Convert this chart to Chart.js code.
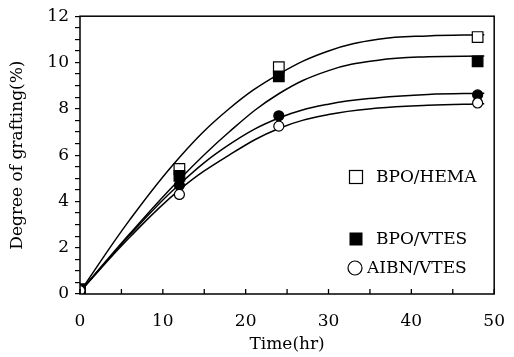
<!DOCTYPE html>
<html>
<head>
<meta charset="utf-8">
<script src="https://cdn.jsdelivr.net/npm/chart.js@4.4.0/dist/chart.umd.min.js"></script>
<style>
  html, body { margin: 0; padding: 0; background: #fff; }
  #wrap { width: 514px; height: 357px; }
</style>
</head>
<body>
<div id="wrap"><canvas id="c" width="514" height="357"></canvas></div>
<script>
// ---- Data ----
const timeHr = [0, 12, 24, 48];
const bpoHema = [0.2, 5.4, 9.8, 11.1];
const bpoVtes = [0.2, 5.1, 9.4, 10.05];
const filledCircleSeries = [0.2, 4.7, 7.7, 8.6];   // unlabelled series (filled circles)
const aibnVtes = [0.15, 4.3, 7.25, 8.25];

// fitted curves
const curveX = [0, 6, 12, 18, 24, 30, 36, 42, 48.8];
const curveHema = [0.1, 3.2, 5.9, 8.0, 9.5, 10.5, 11.0, 11.15, 11.2];
const curveBpoVtes = [0.1, 2.6, 4.95, 7.0, 8.65, 9.65, 10.1, 10.25, 10.28];
const curveFilledCircle = [0.1, 2.55, 4.74, 6.45, 7.6, 8.2, 8.48, 8.62, 8.67];
const curveAibnVtes = [0.1, 2.45, 4.5, 6.0, 7.15, 7.75, 8.03, 8.15, 8.22];

const legendLabels = ['BPO/HEMA', 'BPO/VTES', 'AIBN/VTES'];
const xTickLabels = [0, 10, 20, 30, 40, 50];
const yTickLabels = [0, 2, 4, 6, 8, 10, 12];

const FONT = 'DejaVu Serif';
const FS = 17;
const pts = (xs, ys) => xs.map((x, i) => ({ x: x, y: ys[i] }));

function curveDs(ys) {
  return {
    type: 'line', data: pts(curveX, ys), borderColor: '#000', borderWidth: 1.5,
    pointRadius: 0, tension: 0.4, fill: false, order: 2
  };
}
function markerDs(label, ys, style, filled, r) {
  return {
    type: 'scatter', label: label, data: pts(timeHr, ys), showLine: false,
    pointStyle: style, pointRadius: r, pointHoverRadius: r,
    pointBackgroundColor: filled ? '#000' : '#fff', pointBorderColor: '#000',
    pointBorderWidth: 1.2, order: 1
  };
}

const frameAndTicks = {
  id: 'frameAndTicks',
  afterDraw(chart) {
    const { ctx, chartArea: a } = chart;
    const xs = chart.scales.x;
    ctx.save();
    ctx.strokeStyle = '#000';
    ctx.lineWidth = 1.5;
    ctx.strokeRect(a.left, a.top, a.right - a.left, a.bottom - a.top);
    ctx.lineWidth = 1.3;
    xs.ticks.forEach(t => {
      const px = xs.getPixelForValue(t.value);
      ctx.beginPath();
      ctx.moveTo(px, a.bottom);
      ctx.lineTo(px, a.bottom - 5);
      ctx.stroke();
    });
    ctx.restore();
  }
};

const innerLegend = {
  id: 'innerLegend',
  afterDraw(chart) {
    const { ctx } = chart;
    const items = [
      { label: legendLabels[0], kind: 'osq', x: 356, y: 177, tx: 376 },
      { label: legendLabels[1], kind: 'fsq', x: 356, y: 239, tx: 376 },
      { label: legendLabels[2], kind: 'oci', x: 355, y: 268, tx: 367 }
    ];
    ctx.save();
    ctx.font = FS + 'px "' + FONT + '"';
    ctx.textBaseline = 'middle';
    ctx.fillStyle = '#000';
    ctx.strokeStyle = '#000';
    ctx.lineWidth = 1.2;
    items.forEach(it => {
      if (it.kind === 'osq') {
        ctx.strokeRect(it.x - 6.5, it.y - 6.5, 13, 13);
      } else if (it.kind === 'fsq') {
        ctx.fillRect(it.x - 6.5, it.y - 6.5, 13, 13);
      } else {
        ctx.beginPath();
        ctx.arc(it.x, it.y, 7, 0, Math.PI * 2);
        ctx.stroke();
      }
      ctx.fillText(it.label, it.tx, it.y + 1);
    });
    ctx.restore();
  }
};

new Chart(document.getElementById('c'), {
  data: {
    datasets: [
      curveDs(curveHema),
      curveDs(curveBpoVtes),
      curveDs(curveFilledCircle),
      curveDs(curveAibnVtes),
      markerDs(legendLabels[2], aibnVtes, 'circle', false, 5),
      markerDs('', filledCircleSeries, 'circle', true, 5),
      markerDs(legendLabels[1], bpoVtes, 'rect', true, 7.5),
      markerDs(legendLabels[0], bpoHema, 'rect', false, 7.5)
    ]
  },
  options: {
    responsive: false,
    animation: false,
    layout: { padding: { top: 13, right: 17, left: 0, bottom: 0 } },
    plugins: { legend: { display: false }, tooltip: { enabled: false } },
    scales: {
      x: {
        type: 'linear', min: 0, max: 50,
        grid: { display: false },
        border: { display: false },
        ticks: {
          stepSize: 5, padding: 9, color: '#000', autoSkip: false,
          font: { family: FONT, size: FS },
          maxRotation: 0,
          callback: v => xTickLabels.includes(v) ? String(v) : ''
        },
        title: {
          display: true, text: 'Time(hr)', color: '#000',
          font: { family: FONT, size: FS }, padding: { top: 0, bottom: 2 }
        },
        afterFit: s => { s.height = 63; }
      },
      y: {
        type: 'linear', min: 0, max: 12,
        grid: { display: true, drawOnChartArea: false, drawTicks: true, tickLength: 5, color: '#000', lineWidth: 1.2 },
        border: { display: false },
        ticks: {
          stepSize: 0.5, padding: 6, color: '#000', autoSkip: false,
          font: { family: FONT, size: FS },
          callback: v => yTickLabels.includes(v) ? String(v) : ''
        },
        title: {
          display: true, text: 'Degree of grafting(%)', color: '#000',
          font: { family: FONT, size: FS }, padding: { top: 7, bottom: 0 }
        },
        afterFit: s => { s.width = 80; }
      }
    }
  },
  plugins: [frameAndTicks, innerLegend]
});
</script>
</body>
</html>
